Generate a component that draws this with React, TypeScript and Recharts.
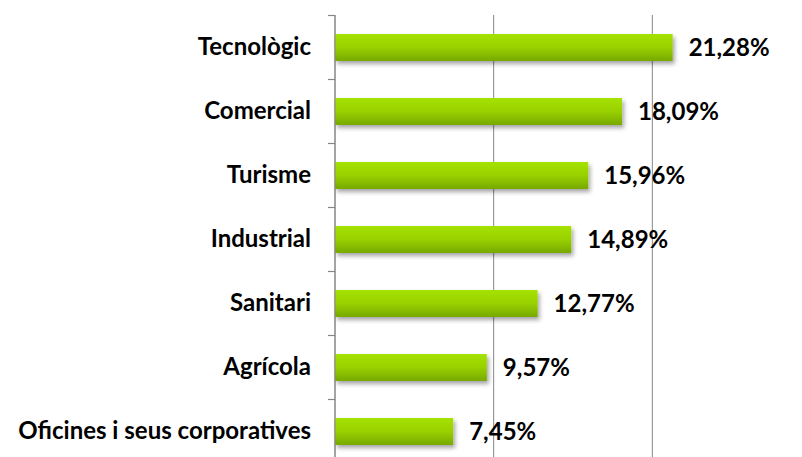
import React from "react"
import { BarChart, Bar, XAxis, YAxis, CartesianGrid, LabelList } from "recharts"

const categories = [
  "Tecnològic",
  "Comercial",
  "Turisme",
  "Industrial",
  "Sanitari",
  "Agrícola",
  "Oficines i seus corporatives",
]
const values = [21.28, 18.09, 15.96, 14.89, 12.77, 9.57, 7.45]
const xTicks = [0, 10, 20]

const data = categories.map((name, i) => ({ name, value: values[i] }))

const FONT = "Lato, 'Liberation Sans', sans-serif"
const BAND = 64
const AXIS_X = 335

// category label plus the short tick mark at the band boundary above it
const CategoryTick = (props: any) => {
  const { x, y, payload } = props
  const ty = Math.round(y - BAND / 2) + 0.5
  return (
    <g>
      <path d={`M${AXIS_X - 7},${ty}H${AXIS_X}`} stroke="#868686" strokeWidth={1.2} fill="none" />
      <text x={x} y={y} dy={8} textAnchor="end" fontFamily={FONT} fontWeight={700} fontSize={24} fill="#000">
        {payload.value}
      </text>
    </g>
  )
}

const ShadowBar = (props: any) => {
  const { x, y, width, height } = props
  return <rect x={x} y={y} width={width} height={height} fill="url(#barFill)" filter="url(#barShadow)" />
}

const fmt = (v: any) => `${Number(v).toFixed(2).replace(".", ",")}%`

export default function App() {
  return (
    <div style={{ position: "absolute", left: 0, top: 0, width: 802, height: 457, overflow: "hidden", background: "#fff" }}>
      <BarChart
        width={830}
        height={470}
        data={data}
        layout="vertical"
        margin={{ top: 15, right: 19, bottom: 7, left: 0 }}
        barSize={27}
      >
        <defs>
          <linearGradient id="barFill" x1="0" y1="0" x2="0" y2="1">
            <stop offset="0%" stopColor="#a6e200" />
            <stop offset="50%" stopColor="#98d000" />
            <stop offset="100%" stopColor="#78a800" />
          </linearGradient>
          <filter id="barShadow" x="-5%" y="-20%" width="115%" height="160%">
            <feDropShadow dx="2" dy="3" stdDeviation="2" floodColor="#000" floodOpacity="0.35" />
          </filter>
        </defs>
        <CartesianGrid horizontal={false} vertical stroke="#868686" />
        <XAxis type="number" domain={[0, 30]} ticks={xTicks} hide />
        <YAxis
          type="category"
          dataKey="name"
          width={AXIS_X}
          axisLine={{ stroke: "#868686" }}
          tickLine={false}
          tickMargin={0}
          tickSize={24}
          tick={<CategoryTick />}
          interval={0}
        />
        <Bar dataKey="value" isAnimationActive={false} shape={<ShadowBar />}>
          <LabelList
            dataKey="value"
            position="right"
            offset={16}
            formatter={fmt}
            style={{ fontFamily: FONT, fontWeight: 700, fontSize: 24, fill: "#000" }}
          />
        </Bar>
      </BarChart>
    </div>
  )
}
